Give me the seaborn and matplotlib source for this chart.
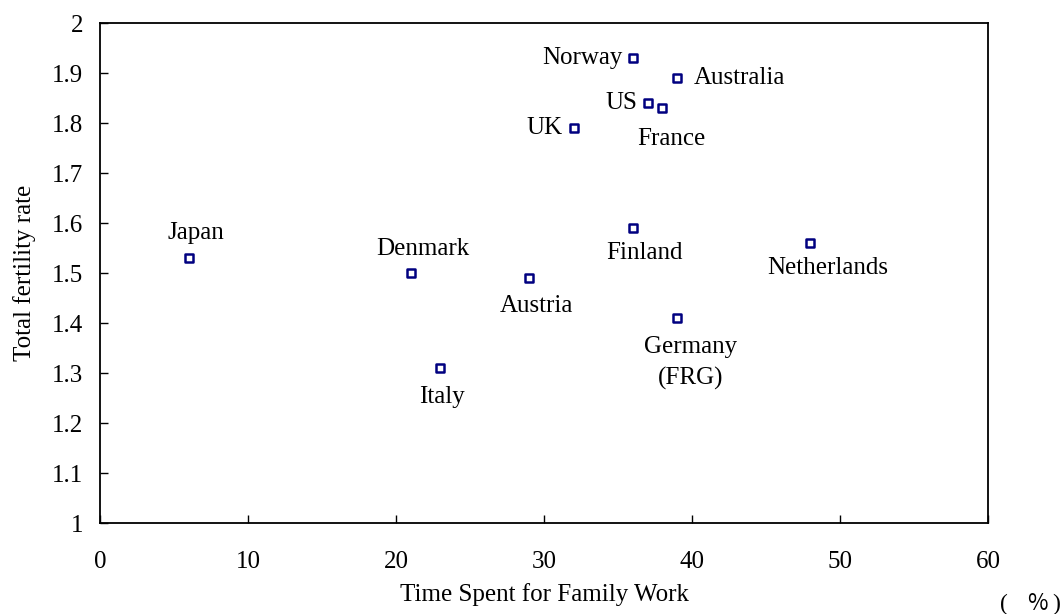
import matplotlib
matplotlib.use("Agg")
import matplotlib.pyplot as plt
import seaborn as sns
import pandas as pd

sns.set_style("white")
plt.rcParams['font.family'] = ['Liberation Serif', 'DejaVu Serif']
plt.rcParams.update({'text.color': 'black', 'axes.labelcolor': 'black',
                     'xtick.color': 'black', 'ytick.color': 'black'})

countries = ['Japan', 'Denmark', 'Italy', 'Austria', 'UK', 'Norway', 'Finland',
             'US', 'France', 'Australia', 'Germany\n(FRG)', 'Netherlands']
family_work = [6, 21, 23, 29, 32, 36, 36, 37, 38, 39, 39, 48]
fertility = [1.53, 1.50, 1.31, 1.49, 1.79, 1.93, 1.59, 1.84, 1.83, 1.89, 1.41, 1.56]

# label offsets in pixels (dx, dy) and alignment
label_pos = {
    'Japan': (7, 25, 'center'),
    'Denmark': (12, 24, 'center'),
    'Italy': (2, -29, 'center'),
    'Austria': (7, -28, 'center'),
    'UK': (-11, 0, 'right'),
    'Norway': (-10, 0, 'right'),
    'Finland': (12, -25, 'center'),
    'US': (-10, 0, 'right'),
    'France': (9, -31, 'center'),
    'Australia': (17, 0, 'left'),
    'Germany\n(FRG)': (13, -45, 'center'),
    'Netherlands': (17, -25, 'center'),
}

df = pd.DataFrame({'country': countries, 'x': family_work, 'y': fertility})

fig = plt.figure(figsize=(10.64, 6.14), dpi=100)
ax = fig.add_axes([100 / 1064, 91 / 614, 888 / 1064, 500 / 614])

sns.scatterplot(data=df, x='x', y='y', ax=ax, marker='s', s=30,
                facecolor='white', edgecolor='#000080', linewidth=1.8, zorder=3)

for _, row in df.iterrows():
    dx, dy, ha = label_pos[row['country']]
    ax.annotate(row['country'], (row['x'], row['y']), xytext=(dx, dy),
                textcoords='offset pixels', ha=ha, va='center', color='black',
                fontsize=18, multialignment='center', linespacing=1.45)

ax.set_xlim(0, 60)
ax.set_ylim(1, 2)
ax.set_xticks(range(0, 61, 10))
ax.set_yticks([1 + i / 10 for i in range(11)])
ax.set_yticklabels(['1', '1.1', '1.2', '1.3', '1.4', '1.5', '1.6', '1.7', '1.8', '1.9', '2'])
ax.tick_params(direction='in', length=6, width=1, labelsize=18, color='black',
               labelcolor='black', bottom=True, left=True)
ax.tick_params(axis='x', pad=20)
ax.tick_params(axis='y', pad=12)
for sp in ax.spines.values():
    sp.set_color('black')
    sp.set_linewidth(1.3)

ax.set_xlabel('Time Spent for Family Work', fontsize=18, color='black')
ax.set_ylabel('Total fertility rate', fontsize=18, color='black')
ax.xaxis.label.set_va('center')
ax.yaxis.label.set_va('center')
ax.xaxis.set_label_coords(0.5, (523 - 595) / 500)
ax.yaxis.set_label_coords((25 - 100) / 888, 0.5)

fig.text(1004 / 1064, 1 - 604 / 614, '(', fontsize=17, ha='center', va='center')
fig.text(1037 / 1064, 1 - 604 / 614, '%', fontsize=16,
         family=['Noto Sans CJK JP', 'DejaVu Sans'], ha='center', va='center')
fig.text(1056 / 1064, 1 - 604 / 614, ')', fontsize=17, ha='center', va='center')

fig.savefig('out.png', dpi=100)
